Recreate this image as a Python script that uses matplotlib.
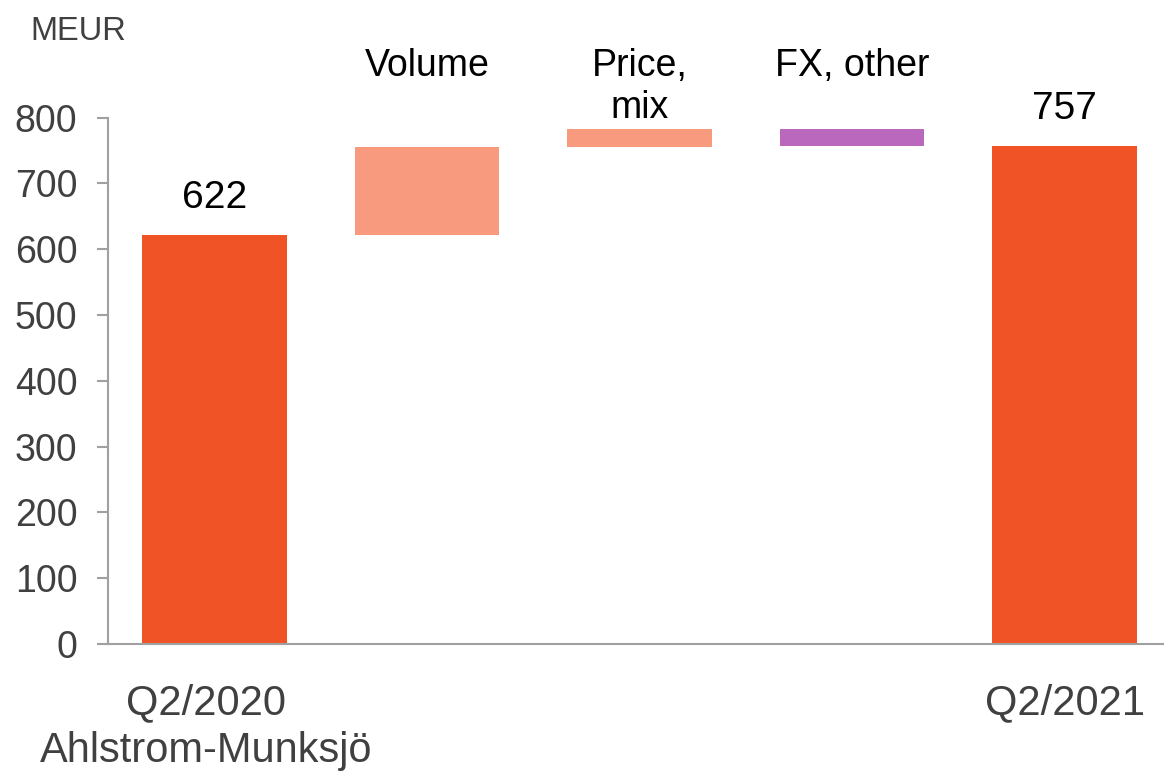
import numpy as np
import matplotlib.pyplot as plt
from matplotlib.transforms import ScaledTranslation

plt.rcParams['font.family'] = ['Liberation Sans', 'DejaVu Sans']

tick_labels = ["Q2/2020\nAhlstrom-Munksjö", "", "", "", "Q2/2021"]
step_names = ["", "Volume", "Price,\nmix", "FX, other", ""]
start_value = 622
changes = [133, 28, -26]
end_value = 757
colors = ["#F05326", "#F79A7D", "#F79A7D", "#BA68BE", "#F05326"]

# waterfall geometry from the values
levels = np.cumsum([start_value] + changes)
bottoms = [0] + [min(levels[i], levels[i + 1]) for i in range(len(changes))] + [0]
heights = [start_value] + [abs(c) for c in changes] + [end_value]
x = np.arange(len(heights))

fig = plt.figure(figsize=(11.64, 7.72), dpi=100)
ax = fig.add_axes([108 / 1164, 1 - 644 / 772, (1171 - 108) / 1164, (644 - 117.5) / 772])

ax.bar(x, heights, bottom=bottoms, width=0.68, color=colors)

for xi, name in zip(x, step_names):
    if name:
        ax.text(xi, 905, name, ha="center", va="top", fontsize=27, color="black",
                linespacing=1.2, clip_on=False)

ax.text(x[0], start_value + 28, str(start_value), ha="center", va="bottom", fontsize=28)
ax.text(x[-1], end_value + 28, str(end_value), ha="center", va="bottom", fontsize=28)

ax.set_xlim(-0.5, 4.5)
ax.set_ylim(0, 800)
ax.set_yticks(range(0, 801, 100))
ax.set_xticks(x)
ax.set_xticklabels(tick_labels, linespacing=1.25)
ax.tick_params(axis="y", labelsize=27, labelcolor="#404040", color="#A0A0A0", length=8, width=1.5, pad=14)
ax.tick_params(axis="x", labelsize=30, labelcolor="#404040", length=0, pad=28)
# first label block sits a bit left of its bar
ax.get_xticklabels()[0].set_transform(ax.get_xticklabels()[0].get_transform()
                                      + ScaledTranslation(-0.08, 0, fig.dpi_scale_trans))

for side in ["top", "right"]:
    ax.spines[side].set_visible(False)
ax.spines["left"].set_color("#A0A0A0")
ax.spines["bottom"].set_color("#A0A0A0")
ax.spines["left"].set_linewidth(1.5)
ax.spines["bottom"].set_linewidth(1.5)

fig.text(30 / 1164, 1 - 40 / 772, "MEUR", fontsize=23.5, color="#404040", va="baseline")

fig.savefig("out.png", dpi=100)
